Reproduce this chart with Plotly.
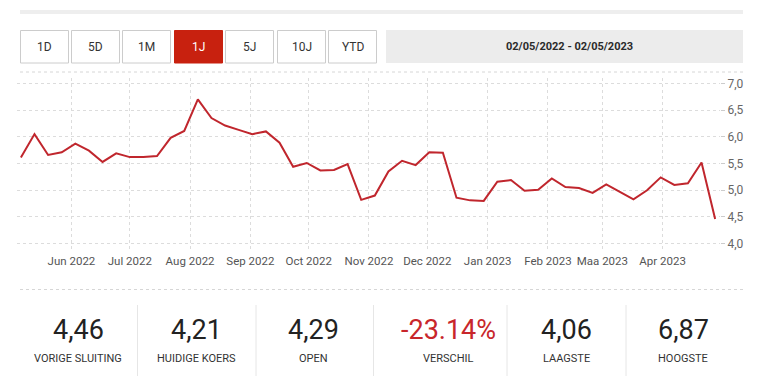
import pandas as pd
import plotly.graph_objects as go

# ---------------- data ----------------
dates = pd.date_range("2022-05-06", "2023-04-28", freq="W-FRI")
prices = [5.61, 6.05, 5.66, 5.71, 5.87, 5.74, 5.53, 5.69, 5.62, 5.62,
          5.64, 5.98, 6.11, 6.70, 6.35, 6.21, 6.13, 6.05, 6.10, 5.89,
          5.44, 5.51, 5.37, 5.38, 5.49, 4.82, 4.90, 5.35, 5.55, 5.47,
          5.71, 5.70, 4.86, 4.81, 4.80, 5.16, 5.19, 4.99, 5.01, 5.22,
          5.06, 5.04, 4.95, 5.11, 4.97, 4.83, 5.00, 5.24, 5.10, 5.13,
          5.52, 4.46]

month_ticks = ["2022-06-01", "2022-07-01", "2022-08-01", "2022-09-01", "2022-10-01",
               "2022-11-01", "2022-12-01", "2023-01-01", "2023-02-01", "2023-03-01",
               "2023-04-01"]
month_labels = ["Jun 2022", "Jul 2022", "Aug 2022", "Sep 2022", "Oct 2022", "Nov 2022",
                "Dec 2022", "Jan 2023", "Feb 2023", "Maa 2023", "Apr 2023"]
y_ticks = [4.0, 4.5, 5.0, 5.5, 6.0, 6.5, 7.0]
y_labels = ["4,0", "4,5", "5,0", "5,5", "6,0", "6,5", "7,0"]

buttons = ["1D", "5D", "1M", "1J", "5J", "10J", "YTD"]
active_button = "1J"
date_range_text = "02/05/2022 - 02/05/2023"

stat_values = ["4,46", "4,21", "4,29", "-23.14%", "4,06", "6,87"]
stat_labels = ["VORIGE SLUITING", "HUIDIGE KOERS", "OPEN", "VERSCHIL", "LAAGSTE", "HOOGSTE"]
stat_negative = [False, False, False, True, False, False]

# ---------------- layout geometry ----------------
W, H = 757, 376
ML, MR, MT, MB = 17, 37, 78, 127
PW, PH = W - ML - MR, H - MT - MB

def fx(px):
    return (px - ML) / PW

def fy(py):
    return (H - MB - py) / PH

FONT = "Roboto, Liberation Sans, sans-serif"
RED = "#c8210f"
LINE_RED = "#c0262d"

fig = go.Figure()
fig.add_trace(go.Scatter(x=dates, y=prices, mode="lines",
                         line=dict(color=LINE_RED, width=2), hoverinfo="skip"))

shapes = []
annotations = []

# top grey bar
shapes.append(dict(type="rect", xref="paper", yref="paper", x0=fx(20), x1=fx(743),
                   y0=fy(14), y1=fy(10), fillcolor="#eeeeee", line=dict(width=0)))

# buttons
btn_x = [20, 71, 122, 174, 225, 277, 328]
btn_w = 48.5
for bx, lab in zip(btn_x, buttons):
    active = lab == active_button
    shapes.append(dict(type="rect", xref="paper", yref="paper", x0=fx(bx + 0.5), x1=fx(bx + btn_w),
                       y0=fy(63), y1=fy(30.5),
                       fillcolor=RED if active else "white",
                       line=dict(color=RED if active else "#cccccc", width=1)))
    annotations.append(dict(x=fx(bx + btn_w / 2 + 0.5), y=fy(46.5), xref="paper", yref="paper",
                            text=lab, showarrow=False, xanchor="center", yanchor="middle",
                            font=dict(family=FONT, size=12, color="white" if active else "#333333")))

# date range box
shapes.append(dict(type="rect", xref="paper", yref="paper", x0=fx(386), x1=fx(743),
                   y0=fy(63), y1=fy(30), fillcolor="#ececec", line=dict(width=0)))
annotations.append(dict(x=fx(569), y=fy(46.5), xref="paper", yref="paper",
                        text="<b>" + date_range_text + "</b>", showarrow=False,
                        xanchor="center", yanchor="middle",
                        font=dict(family=FONT, size=11, color="#2a2a2a")))

# dashed separators
for yy in (72, 289.5):
    shapes.append(dict(type="line", xref="paper", yref="paper", x0=fx(20), x1=fx(743),
                       y0=fy(yy), y1=fy(yy), line=dict(color="#d6d6d6", width=1, dash="3px,3px")))

# stats separators
for sx in (137.5, 256, 373.5, 507, 626):
    shapes.append(dict(type="line", xref="paper", yref="paper", x0=fx(sx), x1=fx(sx),
                       y0=fy(305), y1=fy(376), line=dict(color="#e6e6e6", width=1)))

stat_centers = [78, 196, 313, 448, 566, 683]
for cx, v, lab, neg in zip(stat_centers, stat_values, stat_labels, stat_negative):
    annotations.append(dict(x=fx(cx), y=fy(330), xref="paper", yref="paper", text=v,
                            showarrow=False, xanchor="center", yanchor="middle",
                            font=dict(family=FONT, size=27, color="#c8262b" if neg else "#222222")))
    annotations.append(dict(x=fx(cx), y=fy(358), xref="paper", yref="paper", text=lab,
                            showarrow=False, xanchor="center", yanchor="middle",
                            font=dict(family=FONT, size=11, color="#333333")))

fig.update_layout(
    width=W, height=H,
    margin=dict(l=ML, r=MR, t=MT, b=MB),
    paper_bgcolor="white", plot_bgcolor="white",
    showlegend=False,
    shapes=shapes, annotations=annotations,
    xaxis=dict(range=["2022-05-04", "2023-04-30 12:00"],
               tickmode="array", tickvals=month_ticks, ticktext=month_labels,
               tickangle=0,
               showgrid=True, gridcolor="#dcdcdc", griddash="3px,3px", gridwidth=1,
               zeroline=False, showline=False, ticks="",
               tickfont=dict(family=FONT, size=11.5, color="#555555"),
               ticklabelstandoff=3, fixedrange=True),
    yaxis=dict(range=[3.9, 7.1], side="right",
               tickmode="array", tickvals=y_ticks, ticktext=y_labels,
               showgrid=True, gridcolor="#dcdcdc", griddash="3px,3px", gridwidth=1,
               zeroline=False, showline=False, ticks="outside", ticklen=4,
               tickcolor="#cccccc",
               tickfont=dict(family=FONT, size=12, color="#666666"),
               fixedrange=True),
)

fig.write_html("out.html", config={"displayModeBar": False, "staticPlot": True})

# remove default browser body margin so the figure sits at the page origin
with open("out.html", "r", encoding="utf-8") as f:
    html = f.read()
html = html.replace("<body>", '<body style="margin:0;padding:0;overflow:hidden">', 1)
with open("out.html", "w", encoding="utf-8") as f:
    f.write(html)
